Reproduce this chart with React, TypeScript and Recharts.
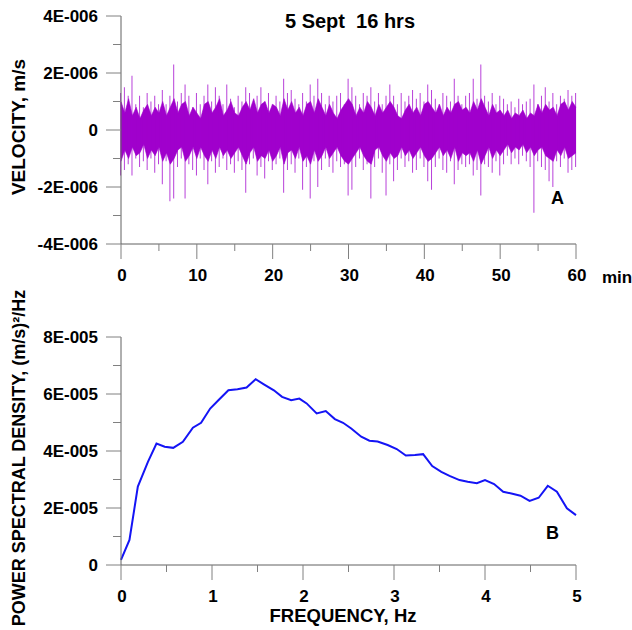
import React from 'react';
import { ComposedChart, Bar, Area, XAxis, YAxis, LineChart, Line } from 'recharts';

const FONT = '"Liberation Sans", Arial, Helvetica, sans-serif';
const TRACE = '#a000cc';
const AXIS = '#606060';
const TICK = '#808080';

// ---------- Panel A : velocity trace (units of 1E-7 m/s), one value per 0.5 min bin ----------
const binMinutes = 0.5;
const spikeHigh = [
  13, 15, 12, 19, 9, 12, 8, 13, 10, 12, 9,
  14, 9, 12, 23, 10, 13, 16, 12, 8, 13,
  9, 12, 16, 10, 15, 12, 9, 16, 11, 8,
  12, 10, 15, 13, 9, 12, 15, 10, 13, 9,
  12, 10, 18, 13, 14, 11, 9, 13, 10, 16,
  12, 18, 13, 9, 12, 10, 12, 13, 9, 18,
  15, 12, 9, 13, 12, 15, 10, 13, 9, 12,
  16, 12, 9, 13, 10, 12, 14, 11, 13, 10,
  16, 14, 11, 9, 13, 12, 10, 18, 12, 9,
  12, 13, 18, 11, 23, 12, 10, 13, 9, 12,
  11, 9, 10, 8, 11, 9, 10, 11, 16, 9,
  12, 15, 10, 13, 9, 12, 11, 14, 12, 13,
];
const spikeLow = [
  -16, -14, -12, -16, -10, -13, -11, -14, -10, -15, -12,
  -19, -11, -25, -24, -13, -10, -24, -12, -14, -16,
  -10, -14, -19, -11, -15, -13, -10, -14, -12, -15,
  -11, -14, -22, -12, -10, -16, -13, -17, -11, -14,
  -12, -10, -22, -14, -12, -15, -10, -21, -13, -24,
  -11, -20, -14, -10, -13, -15, -11, -13, -12, -23,
  -21, -13, -10, -14, -12, -24, -13, -10, -15, -23,
  -12, -18, -14, -10, -13, -11, -15, -14, -10, -13,
  -18, -21, -13, -10, -14, -15, -11, -19, -14, -12,
  -13, -12, -16, -14, -23, -12, -13, -15, -11, -16,
  -12, -9, -12, -10, -12, -9, -11, -13, -29, -11,
  -13, -14, -18, -20, -11, -13, -10, -15, -14, -13,
];
const coreHigh = [
  10, 6, 11, 5, 8, 4, 7, 9, 5, 8, 6,
  10, 5, 8, 11, 6, 9, 10, 5, 8, 6,
  4, 9, 10, 6, 8, 11, 5, 7, 10, 6,
  5, 8, 10, 7, 11, 6, 9, 10, 6, 9,
  8, 5, 11, 7, 10, 6, 8, 5, 9, 10,
  6, 11, 8, 5, 9, 6, 4, 7, 9, 11,
  9, 5, 8, 6, 10, 8, 5, 9, 6, 8,
  10, 8, 5, 4, 7, 9, 6, 8, 5, 9,
  10, 8, 6, 9, 5, 8, 6, 9, 10, 7,
  8, 6, 10, 7, 11, 8, 5, 9, 6, 7,
  5, 7, 4, 6, 5, 7, 4, 6, 5, 9,
  6, 9, 7, 8, 5, 9, 10, 7, 10, 8,
];
const coreLow = [
  -11, -7, -10, -6, -9, -8, -5, -10, -7, -9, -6,
  -11, -8, -12, -10, -7, -6, -11, -9, -6, -10,
  -6, -9, -11, -7, -10, -6, -9, -7, -10, -8,
  -6, -9, -12, -8, -6, -11, -9, -10, -7, -11,
  -9, -6, -12, -8, -7, -10, -6, -11, -9, -12,
  -7, -11, -9, -6, -10, -8, -6, -9, -11, -12,
  -10, -8, -6, -9, -11, -12, -7, -6, -9, -11,
  -8, -10, -9, -6, -9, -7, -10, -8, -6, -9,
  -11, -10, -8, -6, -9, -7, -10, -6, -11, -8,
  -9, -8, -11, -7, -12, -9, -6, -10, -7, -9,
  -7, -5, -8, -6, -7, -5, -8, -6, -9, -7,
  -6, -9, -10, -11, -7, -9, -6, -10, -9, -8,
];
const velocityTicks = [-4, -3, -2, -1, 0, 1, 2, 3, 4]; // x 1E-6 m/s
const minuteTicks = [0, 5, 10, 15, 20, 25, 30, 35, 40, 45, 50, 55, 60];

// ---------- Panel B : power spectral density (units of 1E-5) ----------
const freqHz = [
  0, 0.093, 0.185, 0.296, 0.39, 0.48, 0.574, 0.68, 0.79, 0.88,
  0.98, 1.07, 1.18, 1.28, 1.38, 1.48, 1.57, 1.68, 1.77, 1.87,
  1.96, 2.04, 2.15, 2.25, 2.35, 2.44, 2.53, 2.64, 2.73, 2.82,
  2.93, 3.03, 3.13, 3.23, 3.32, 3.42, 3.52, 3.61, 3.72, 3.81,
  3.91, 4.0, 4.1, 4.2, 4.29, 4.39, 4.49, 4.59, 4.69, 4.79,
  4.9, 5.0,
];
const psdValues = [
  0.18, 0.88, 2.75, 3.62, 4.26, 4.15, 4.11, 4.32, 4.82, 4.99,
  5.49, 5.78, 6.13, 6.17, 6.23, 6.52, 6.34, 6.13, 5.9, 5.78,
  5.84, 5.67, 5.32, 5.4, 5.12, 4.99, 4.79, 4.5, 4.36, 4.33,
  4.21, 4.07, 3.84, 3.86, 3.89, 3.47, 3.27, 3.13, 2.98, 2.92,
  2.87, 2.98, 2.84, 2.57, 2.51, 2.43, 2.25, 2.36, 2.78, 2.57,
  1.99, 1.75,
];
const psdTicks = [0, 1, 2, 3, 4, 5, 6, 7, 8]; // x 1E-5
const freqTicks = [0, 0.5, 1, 1.5, 2, 2.5, 3, 3.5, 4, 4.5, 5];

const velData = spikeHigh.map((h, i) => ({
  t: i * binMinutes,
  spike: [spikeLow[i] / 10, h / 10],
  core: [coreLow[i] / 10, coreHigh[i] / 10],
}));
const psdData = freqHz.map((f, i) => ({ f, p: psdValues[i] }));

const labelStyle = { fontFamily: FONT, fontWeight: 700, fill: '#000' } as const;

function makeYTick(isMajor: (v: number) => boolean, fmt: (v: number) => string) {
  return (props: any) => {
    const { x, y, payload } = props;
    const v = payload.value;
    const major = isMajor(v);
    return (
      <g>
        <line x1={x - (major ? 15 : 8)} x2={x} y1={y} y2={y} stroke={TICK} strokeWidth={1} />
        {major && (
          <text x={x - 23} y={y} dy="0.36em" textAnchor="end" fontSize={17} style={labelStyle}>
            {fmt(v)}
          </text>
        )}
      </g>
    );
  };
}

function makeXTick(isMajor: (v: number) => boolean) {
  return (props: any) => {
    const { x, y, payload } = props;
    const v = payload.value;
    const major = isMajor(v);
    return (
      <g>
        <line x1={x} x2={x} y1={y} y2={y + (major ? 15 : 7)} stroke={TICK} strokeWidth={1} />
        {major && (
          <text x={x + 1} y={y + 37} textAnchor="middle" fontSize={17} style={labelStyle}>
            {String(v)}
          </text>
        )}
      </g>
    );
  };
}

const velTick = makeYTick((v) => v % 2 === 0, (v) => (v === 0 ? '0' : `${v}E-006`));
const psdTick = makeYTick((v) => v % 2 === 0, (v) => (v === 0 ? '0' : `${v}E-005`));
const minTick = makeXTick((v) => v % 10 === 0);
const freqTick = makeXTick((v) => Number.isInteger(v));

export default function App() {
  return (
    <div style={{ position: 'absolute', left: 0, top: 0, width: 632, height: 630, background: '#fff' }}>
      <div style={{ position: 'absolute', left: 0, top: 0 }}>
        <ComposedChart width={632} height={300} data={velData} margin={{ top: 16, right: 56, bottom: 16, left: 0 }}>
          <XAxis
            dataKey="t"
            type="number"
            domain={[0, 60]}
            ticks={minuteTicks}
            interval={0}
            height={40}
            tickSize={0}
            tickMargin={0}
            tickLine={false}
            axisLine={{ stroke: AXIS }}
            tick={minTick}
          />
          <YAxis
            type="number"
            domain={[-4, 4]}
            ticks={velocityTicks}
            interval={0}
            width={121}
            tickSize={0}
            tickMargin={0}
            tickLine={false}
            axisLine={{ stroke: AXIS }}
            tick={velTick}
            allowDataOverflow
          />
          <Bar dataKey="spike" fill={TRACE} fillOpacity={0.75} barSize={1} isAnimationActive={false} />
          <Area dataKey="core" type="linear" stroke={TRACE} strokeWidth={0.6} fill={TRACE} fillOpacity={1} isAnimationActive={false} />
        </ComposedChart>
      </div>
      <div style={{ position: 'absolute', left: 0, top: 300 }}>
        <LineChart width={632} height={330} data={psdData} margin={{ top: 37, right: 56, bottom: 25, left: 0 }}>
          <XAxis
            dataKey="f"
            type="number"
            domain={[0, 5]}
            ticks={freqTicks}
            interval={0}
            height={40}
            tickSize={0}
            tickMargin={0}
            tickLine={false}
            axisLine={{ stroke: AXIS }}
            tick={freqTick}
          />
          <YAxis
            type="number"
            domain={[0, 8]}
            ticks={psdTicks}
            interval={0}
            width={121}
            tickSize={0}
            tickMargin={0}
            tickLine={false}
            axisLine={{ stroke: AXIS }}
            tick={psdTick}
          />
          <Line dataKey="p" type="linear" stroke="#1414f5" strokeWidth={2} dot={false} isAnimationActive={false} />
        </LineChart>
      </div>
      <svg width={632} height={630} style={{ position: 'absolute', left: 0, top: 0, pointerEvents: 'none' }}>
        <text x={350} y={28} textAnchor="middle" fontSize={20} style={labelStyle} xmlSpace="preserve">
          5 Sept  16 hrs
        </text>
        <text x={602} y={283} fontSize={17} style={labelStyle}>min</text>
        <text x={551} y={204} fontSize={18} style={labelStyle}>A</text>
        <text x={546} y={539} fontSize={18} style={labelStyle}>B</text>
        <text x={25} y={127} transform="rotate(-90 25 127)" textAnchor="middle" fontSize={19} style={labelStyle}>
          VELOCITY, m/s
        </text>
        <text x={25} y={458} transform="rotate(-90 25 458)" textAnchor="middle" fontSize={18} style={labelStyle}>
          POWER SPECTRAL DENSITY, (m/s)²/Hz
        </text>
        <text x={343} y={622} textAnchor="middle" fontSize={18.5} style={labelStyle}>
          FREQUENCY, Hz
        </text>
      </svg>
    </div>
  );
}
